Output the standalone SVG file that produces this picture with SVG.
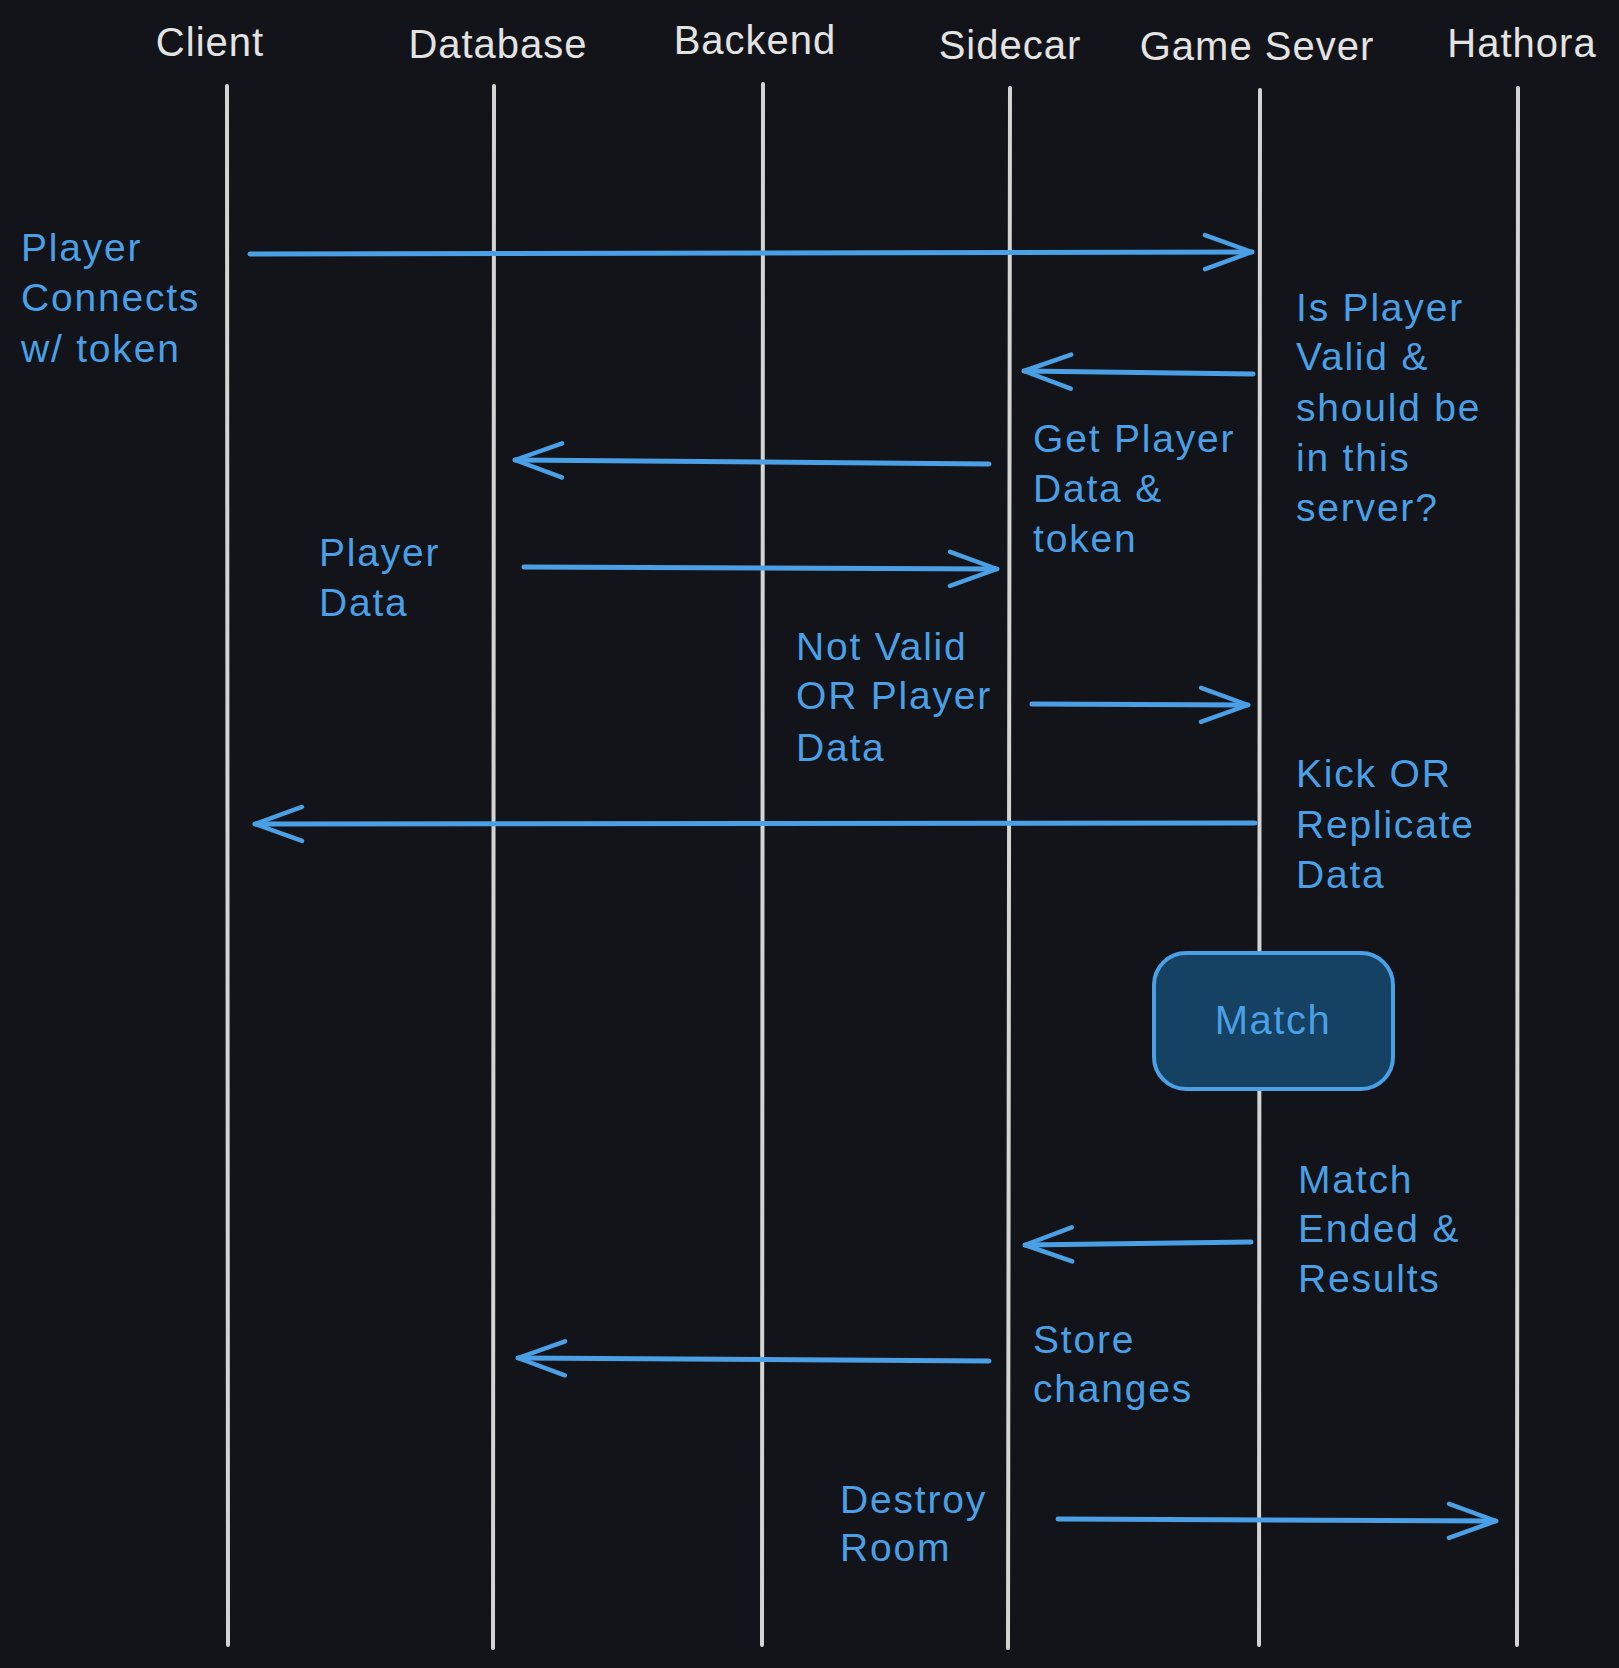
<svg xmlns="http://www.w3.org/2000/svg" width="1619" height="1668" viewBox="0 0 1619 1668">
<style>
.bg{fill:#121419}
.life{stroke:#d4d4d4;stroke-width:4;fill:none;stroke-linecap:round}
.hdr{font-family:"Liberation Sans","DejaVu Sans",sans-serif;font-size:40px;fill:#e3e3e3;text-anchor:middle;letter-spacing:1px}
.lbl{font-family:"Liberation Sans","DejaVu Sans",sans-serif;font-size:39px;fill:#4a9fe5;letter-spacing:1.8px}
.msg{stroke:#4a9fe5;stroke-width:5;fill:none;stroke-linecap:round;marker-end:url(#head)}
.box{fill:#154163;stroke:#4a9fe5;stroke-width:4}
.boxt{font-family:"Liberation Sans","DejaVu Sans",sans-serif;font-size:40px;fill:#4a9fe5;text-anchor:middle;letter-spacing:1.5px}
</style>
<defs>
<marker id="head" markerUnits="userSpaceOnUse" viewBox="-52 -22 56 44" refX="0" refY="0" markerWidth="56" markerHeight="44" orient="auto" overflow="visible">
<path d="M-47,-17 L0,0 L-47,17" fill="none" stroke="#4a9fe5" stroke-width="4.5" stroke-linecap="round" stroke-linejoin="round"/>
</marker>
</defs>
<rect class="bg" x="0" y="0" width="1619" height="1668"/>
<g id="lifelines">
<g id="client"><text class="hdr" x="210" y="56">Client</text><line class="life" x1="227" y1="86" x2="228" y2="1645"/></g>
<g id="database"><text class="hdr" x="498" y="58">Database</text><line class="life" x1="494" y1="86" x2="493" y2="1648"/></g>
<g id="backend"><text class="hdr" x="755" y="54">Backend</text><line class="life" x1="763" y1="84" x2="762" y2="1645"/></g>
<g id="sidecar"><text class="hdr" x="1010" y="59">Sidecar</text><line class="life" x1="1010" y1="88" x2="1008" y2="1648"/></g>
<g id="gameserver"><text class="hdr" x="1257" y="60">Game Sever</text><line class="life" x1="1260" y1="90" x2="1259" y2="1645"/></g>
<g id="hathora"><text class="hdr" x="1522" y="57">Hathora</text><line class="life" x1="1518" y1="88" x2="1517" y2="1645"/></g>
</g>
<g id="match">
<rect class="box" x="1154" y="953" width="239" height="136" rx="32" ry="32"/>
<text class="boxt" x="1273" y="1034">Match</text>
</g>
<g id="connectors">
<path class="msg" d="M250,254 L1252,252"/>
<path class="msg" d="M1253,374 L1024,371"/>
<path class="msg" d="M989,464 L515,460"/>
<path class="msg" d="M524,567 L997,569"/>
<path class="msg" d="M1032,704 L1248,705"/>
<path class="msg" d="M1255,823 L255,824"/>
<path class="msg" d="M1251,1242 L1025,1245"/>
<path class="msg" d="M989,1361 L518,1358"/>
<path class="msg" d="M1058,1519 L1496,1521"/>
</g>
<g id="labels">
<text class="lbl" x="21" y="261">Player<tspan x="21" y="311">Connects</tspan><tspan x="21" y="362">w/ token</tspan></text>
<text class="lbl" x="1296" y="321">Is Player<tspan x="1296" y="370">Valid &amp;</tspan><tspan x="1296" y="421">should be</tspan><tspan x="1296" y="471">in this</tspan><tspan x="1296" y="521">server?</tspan></text>
<text class="lbl" x="1033" y="452">Get Player<tspan x="1033" y="502">Data &amp;</tspan><tspan x="1033" y="552">token</tspan></text>
<text class="lbl" x="319" y="566">Player<tspan x="319" y="616">Data</tspan></text>
<text class="lbl" x="796" y="660">Not Valid<tspan x="796" y="709">OR Player</tspan><tspan x="796" y="761">Data</tspan></text>
<text class="lbl" x="1296" y="787">Kick OR<tspan x="1296" y="838">Replicate</tspan><tspan x="1296" y="888">Data</tspan></text>
<text class="lbl" x="1298" y="1193">Match<tspan x="1298" y="1242">Ended &amp;</tspan><tspan x="1298" y="1292">Results</tspan></text>
<text class="lbl" x="1033" y="1353">Store<tspan x="1033" y="1402">changes</tspan></text>
<text class="lbl" x="840" y="1513">Destroy<tspan x="840" y="1561">Room</tspan></text>
</g>
</svg>
